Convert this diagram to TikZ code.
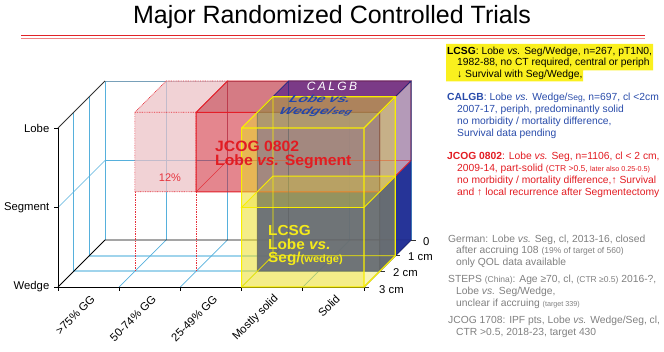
\documentclass[tikz,border=0pt]{standalone}
\usepackage{fontspec}
\setmainfont{Liberation Sans}
\definecolor{gridblue}{RGB}{86,176,220}
\definecolor{floorblue}{RGB}{160,212,236}
\definecolor{topgray}{RGB}{120,160,185}
\definecolor{boxred}{RGB}{205,35,50}
\definecolor{boxredtop}{RGB}{185,35,50}
\definecolor{edgered}{RGB}{228,30,40}
\definecolor{navy}{RGB}{38,52,152}
\definecolor{navyedge}{RGB}{30,40,130}
\definecolor{blueup}{RGB}{122,92,172}
\definecolor{purp}{RGB}{123,58,135}
\definecolor{lilac}{RGB}{180,154,184}
\definecolor{ylw}{RGB}{235,222,40}
\definecolor{ylwedge}{RGB}{248,238,0}
\definecolor{pinkfill}{RGB}{236,192,197}
\definecolor{pinkedge}{RGB}{230,50,60}
\definecolor{calblue}{RGB}{40,75,170}
\definecolor{calblue2}{RGB}{35,70,170}
\definecolor{jcogred}{RGB}{226,28,34}
\definecolor{txtgray}{RGB}{128,128,128}
\definecolor{hlyellow}{RGB}{250,240,30}
\definecolor{lcsgyel}{RGB}{245,235,25}
\definecolor{titlered}{RGB}{225,35,40}
\definecolor{titlepink}{RGB}{240,130,130}
\newcommand\fsA{\fontsize{8.5}{10}\selectfont}
\newcommand\fsB{\fontsize{7.2}{9}\selectfont}
% name, i1, i2, kback, kfront, ybottom, ytop
\newcommand\mkbox[7]{%
 \coordinate (#1-fbl) at ({58+61.2*#2+(3-#5)*15.67},{#6-(3-#5)*15.67});
 \coordinate (#1-fbr) at ({58+61.2*#3+(3-#5)*15.67},{#6-(3-#5)*15.67});
 \coordinate (#1-ftl) at ({58+61.2*#2+(3-#5)*15.67},{#7-(3-#5)*15.67});
 \coordinate (#1-ftr) at ({58+61.2*#3+(3-#5)*15.67},{#7-(3-#5)*15.67});
 \coordinate (#1-bbl) at ({58+61.2*#2+(3-#4)*15.67},{#6-(3-#4)*15.67});
 \coordinate (#1-bbr) at ({58+61.2*#3+(3-#4)*15.67},{#6-(3-#4)*15.67});
 \coordinate (#1-btl) at ({58+61.2*#2+(3-#4)*15.67},{#7-(3-#4)*15.67});
 \coordinate (#1-btr) at ({58+61.2*#3+(3-#4)*15.67},{#7-(3-#4)*15.67});
}
\newcommand\boxedges[2]{%
 \draw[#2] (#1-fbl)--(#1-fbr)--(#1-ftr)--(#1-ftl)--cycle
   (#1-ftl)--(#1-btl)--(#1-btr)--(#1-ftr)
   (#1-fbr)--(#1-bbr)--(#1-btr);
}
\newcommand\boxhidden[2]{%
 \draw[#2] (#1-fbl)--(#1-bbl)--(#1-bbr) (#1-bbl)--(#1-btl);
}
\begin{document}
\begin{tikzpicture}[x=1pt,y=-1pt,
  gridline/.style={draw=gridblue,line width=0.7},
  floorline/.style={draw=floorblue,line width=1.8},
  axisline/.style={draw=black,line width=0.9},
  lab/.style={inner sep=0,font=\fontsize{11.3}{13}\selectfont},
  rt/.style={anchor=base west,inner sep=0,font=\fontsize{10.3}{12}\selectfont},
  jt/.style={anchor=base west,inner sep=0,xscale=1.05,font=\fontsize{15}{16}\selectfont\bfseries},
  lt/.style={anchor=base west,inner sep=0,xscale=1.06,text=lcsgyel,font=\fontsize{14.5}{16}\selectfont\bfseries},
  redge/.style={draw=edgered,line width=0.9},
  redgeh/.style={draw=edgered,line width=0.5,opacity=0.8},
  bedge/.style={draw=navyedge,line width=0.8},
  yedge/.style={draw=ylwedge,line width=1.2},
  pdot/.style={draw=pinkedge,line width=0.7,dash pattern=on 0.8pt off 0.9pt}]
\useasboundingbox (0,0) rectangle (664,352);

% ---- title
\node[anchor=base,inner sep=0,font=\fontsize{25}{28}\selectfont] (title) at (332,24) {Major Randomized Controlled Trials};
\draw[line width=1.6,titlered] (21,35.6) -- (645,35.6);
\draw[line width=0.9,titlepink] (21,38.4) -- (645,38.4);

% ---- grid
\foreach \i in {0,...,5} \draw[gridline] ({105+61.2*\i},81) -- ({105+61.2*\i},240);
\draw[gridline] (105,160.5) -- (411,160.5);
\draw[draw=topgray,line width=0.8] (105,81) -- (411,81);
\foreach \k in {1,2} \draw[gridline] ({58+\k*15.67},{128-\k*15.67}) -- ({58+\k*15.67},{287-\k*15.67});
\draw[gridline] (58,207.5) -- (105,160.5);
\foreach \k in {1,2} \draw[floorline] ({58+\k*15.67},{287-\k*15.67}) -- ({364+\k*15.67},{287-\k*15.67});
\foreach \i in {1,...,4} \draw[gridline] ({58+61.2*\i},287) -- ({105+61.2*\i},240);
% axes
\draw[axisline] (54,128) -- (58,128) -- (58,287) -- (364,287);
\draw[axisline] (54,207.5) -- (58,207.5) (54,287) -- (58,287);
\foreach \i in {0,...,5} \draw[axisline] ({58+61.2*\i},287) -- ({58+61.2*\i},291);
\draw[draw=black!80,line width=0.8] (58,128) -- (105,81);
\draw[axisline] (58,287) -- (105,240) -- (411,240);
\draw[axisline] (364,287) -- (411,240);
\foreach \k in {0,...,3} \draw[draw=black!80,line width=0.8] ({364+(3-\k)*15.67},{287-(3-\k)*15.67}) -- ++(5,0);

% ---- boxes geometry
\mkbox{p}{1}{2}{0}{2}{207.5}{128}
\mkbox{r}{2}{5}{0}{2}{207.5}{128}
\mkbox{b}{3}{5}{0}{2}{287}{128}
\mkbox{bu}{3}{5}{0}{2}{207.5}{128}
\mkbox{bl}{3}{5}{0}{2}{287}{207.5}
\mkbox{y}{3}{5}{1}{3}{287}{128}
\mkbox{ys}{3}{5}{1}{3}{287}{207.5}

% pink dotted box (12%)
\fill[pinkfill,opacity=0.72] (p-fbl)--(p-fbr)--(p-ftr)--(p-btr)--(p-btl)--(p-ftl)--cycle;
\draw[pdot] (p-fbl)--(p-fbr)--(p-ftr)--(p-ftl)--cycle (p-ftl)--(p-btl)--(p-btr)--(p-ftr);
\draw[pdot,line width=0.5] (p-fbl) -- ++(0,79.5) (p-fbr) -- ++(0,79.5);

% red box faces
\fill[boxred,opacity=0.55] (r-fbl)--(r-fbr)--(r-ftr)--(r-ftl)--cycle;
\fill[boxredtop,opacity=0.6] (r-ftl)--(r-ftr)--(r-btr)--(r-btl)--cycle;

% blue box faces
\fill[blueup,opacity=0.94] (bu-fbl)--(bu-fbr)--(bu-ftr)--(bu-ftl)--cycle;
\fill[navy,opacity=0.94] (bl-fbl)--(bl-fbr)--(bl-ftr)--(bl-ftl)--cycle;
\fill[purp] (b-ftl)--(b-ftr)--(b-btr)--(b-btl)--cycle;
\fill[lilac] (bu-fbr)--(bu-bbr)--(bu-btr)--(bu-ftr)--cycle;
\fill[navy] (bl-fbr)--(bl-bbr)--(bl-btr)--(bl-ftr)--cycle;

% edges
\boxhidden{r}{redgeh}
\boxedges{r}{redge}
\boxhidden{b}{bedge,line width=0.5}
\boxedges{b}{bedge}

% yellow box
\fill[ylw,opacity=0.33] (y-fbl)--(y-fbr)--(y-ftr)--(y-ftl)--cycle;
\fill[ylw,opacity=0.33] (y-fbl)--(y-fbr)--(y-fbr|-b-fbl)--(b-fbl)--(b-fbl|-y-ftl)--(y-ftl)--cycle;
\fill[ylw,opacity=0.45] (y-ftl)--(y-ftr)--(y-btr)--(y-btl)--cycle;
\fill[ylw,opacity=0.33] (y-fbr)--(y-bbr)--(y-btr)--(y-ftr)--cycle;
\fill[ylw,opacity=0.3] (ys-ftl)--(ys-ftr)--(ys-btr)--(ys-btl)--cycle;
\boxhidden{y}{yedge,line width=0.7}
\draw[yedge,line width=0.9] (ys-ftl)--(ys-ftr)--(ys-btr)--(ys-btl)--cycle;
\boxedges{y}{yedge}

% ---- texts in boxes
\node[inner sep=0,text=pinkedge,font=\fontsize{11}{12}\selectfont] (pct) at (170,178) {12\%};
\node[jt,text=jcogred] (j1) at (215,152) {JCOG 0802};
\node[jt,text=jcogred] (j2) at (215,165.5) {Lobe \textit{vs.} Segment};
\node[anchor=base,inner sep=0,text=white,font=\fontsize{12}{13}\selectfont\itshape] (cal) at (332,91) {C\hspace{2.4pt}A\hspace{2.4pt}L\hspace{2.4pt}G\hspace{2.4pt}B};
\node[anchor=base west,inner sep=0,text=calblue2,font=\fontsize{12}{13}\selectfont\bfseries\itshape,xslant=0.5,xscale=1.25,yscale=0.85] (cl1) at (288,103) {Lobe vs.};
\node[anchor=base west,inner sep=0,text=calblue2,font=\fontsize{12}{13}\selectfont\bfseries\itshape,xslant=0.5,xscale=1.25,yscale=0.85] (cl2) at (278,115) {Wedge/{\fontsize{9}{10}\selectfont seg}};
\node[lt] (l1) at (268,236) {LCSG};
\node[lt] (l2) at (268,249.5) {Lobe \textit{vs.}};
\node[lt] (l3) at (268,263) {Seg/{\fontsize{10.5}{12}\selectfont (wedge)}};

% ---- axis labels
\node[lab,anchor=east] (lobe) at (49.5,128) {Lobe};
\node[lab,anchor=east] (segm) at (49.5,207.5) {Segment};
\node[lab,anchor=east] (wedg) at (49.5,287) {Wedge};
\node[lab,rotate=45,anchor=east] (x1) at (93,297) {>75\% GG};
\node[lab,rotate=45,anchor=east] (x2) at (154.2,297) {50-74\% GG};
\node[lab,rotate=45,anchor=east] (x3) at (215.4,297) {25-49\% GG};
\node[lab,rotate=45,anchor=east] (x4) at (276.6,297) {Mostly solid};
\node[lab,rotate=45,anchor=east] (x5) at (337.8,297) {Solid};
\node[lab,anchor=west] (d0) at (423,242) {0};
\node[lab,anchor=west] (d1) at (408,257) {1 cm};
\node[lab,anchor=west] (d2) at (393,272.5) {2 cm};
\node[lab,anchor=west] (d3) at (379,289.5) {3 cm};

% ---- right text blocks
\fill[hlyellow] (446,44) -- (653,44) -- (653,70.5) -- (583,70.5) -- (583,81.5) -- (446,81.5) -- cycle;
\node[rt] (a1) at (447,54.5) {\textbf{LCSG}: Lobe \textit{vs.} Seg/Wedge, n=267, pT1N0,};
\node[rt] (a2) at (457,66) {1982-88, no CT required, central or periph};
\node[rt] (a3) at (457,77.5) {↓ Survival with Seg/Wedge,};

\node[rt,text=calblue] (b1) at (447,101) {\textbf{CALGB}: Lobe \textit{vs.} Wedge/{\fsA Seg}, n=697, cl <2cm};
\node[rt,text=calblue] (b2) at (457,112.7) {2007-17, periph, predominantly solid};
\node[rt,text=calblue] (b3) at (457,124.4) {no morbidity / mortality difference,};
\node[rt,text=calblue] (b4) at (457,136.2) {Survival data pending};

\node[rt,text=jcogred] (c1) at (447,159.3) {\textbf{JCOG 0802}: Lobe \textit{vs.} Seg, n=1106, cl < 2 cm,};
\node[rt,text=jcogred] (c2) at (457,171.2) {2009-14, part-solid {\fsA (CTR >0.5, {\fsB later also 0.25-0.5)}}};
\node[rt,text=jcogred] (c3) at (457,183.2) {no morbidity / mortality difference,↑ Survival};
\node[rt,text=jcogred] (c4) at (457,195.2) {and ↑ local recurrence after Segmentectomy};

\node[rt,text=txtgray] (g1) at (448,242.3) {German: Lobe \textit{vs.} Seg, cl, 2013-16, closed};
\node[rt,text=txtgray] (g2) at (456,254) {after accruing 108 {\fsA (19\% of target of 560)}};
\node[rt,text=txtgray] (g3) at (456,266) {only QOL data available};
\node[rt,text=txtgray] (s1) at (448,283) {STEPS {\fsA (China)}: Age ≥70, cl, {\fsA (CTR ≥0.5)} 2016-?,};
\node[rt,text=txtgray] (s2) at (456,295) {Lobe \textit{vs.} Seg/Wedge,};
\node[rt,text=txtgray] (s3) at (456,306.7) {unclear if accruing {\fsB (target 339)}};
\node[rt,text=txtgray] (k1) at (448,324) {JCOG 1708: IPF pts, Lobe \textit{vs.} Wedge/Seg, cl,};
\node[rt,text=txtgray] (k2) at (456,335.5) {CTR >0.5, 2018-23, target 430};
\end{tikzpicture}
\end{document}
